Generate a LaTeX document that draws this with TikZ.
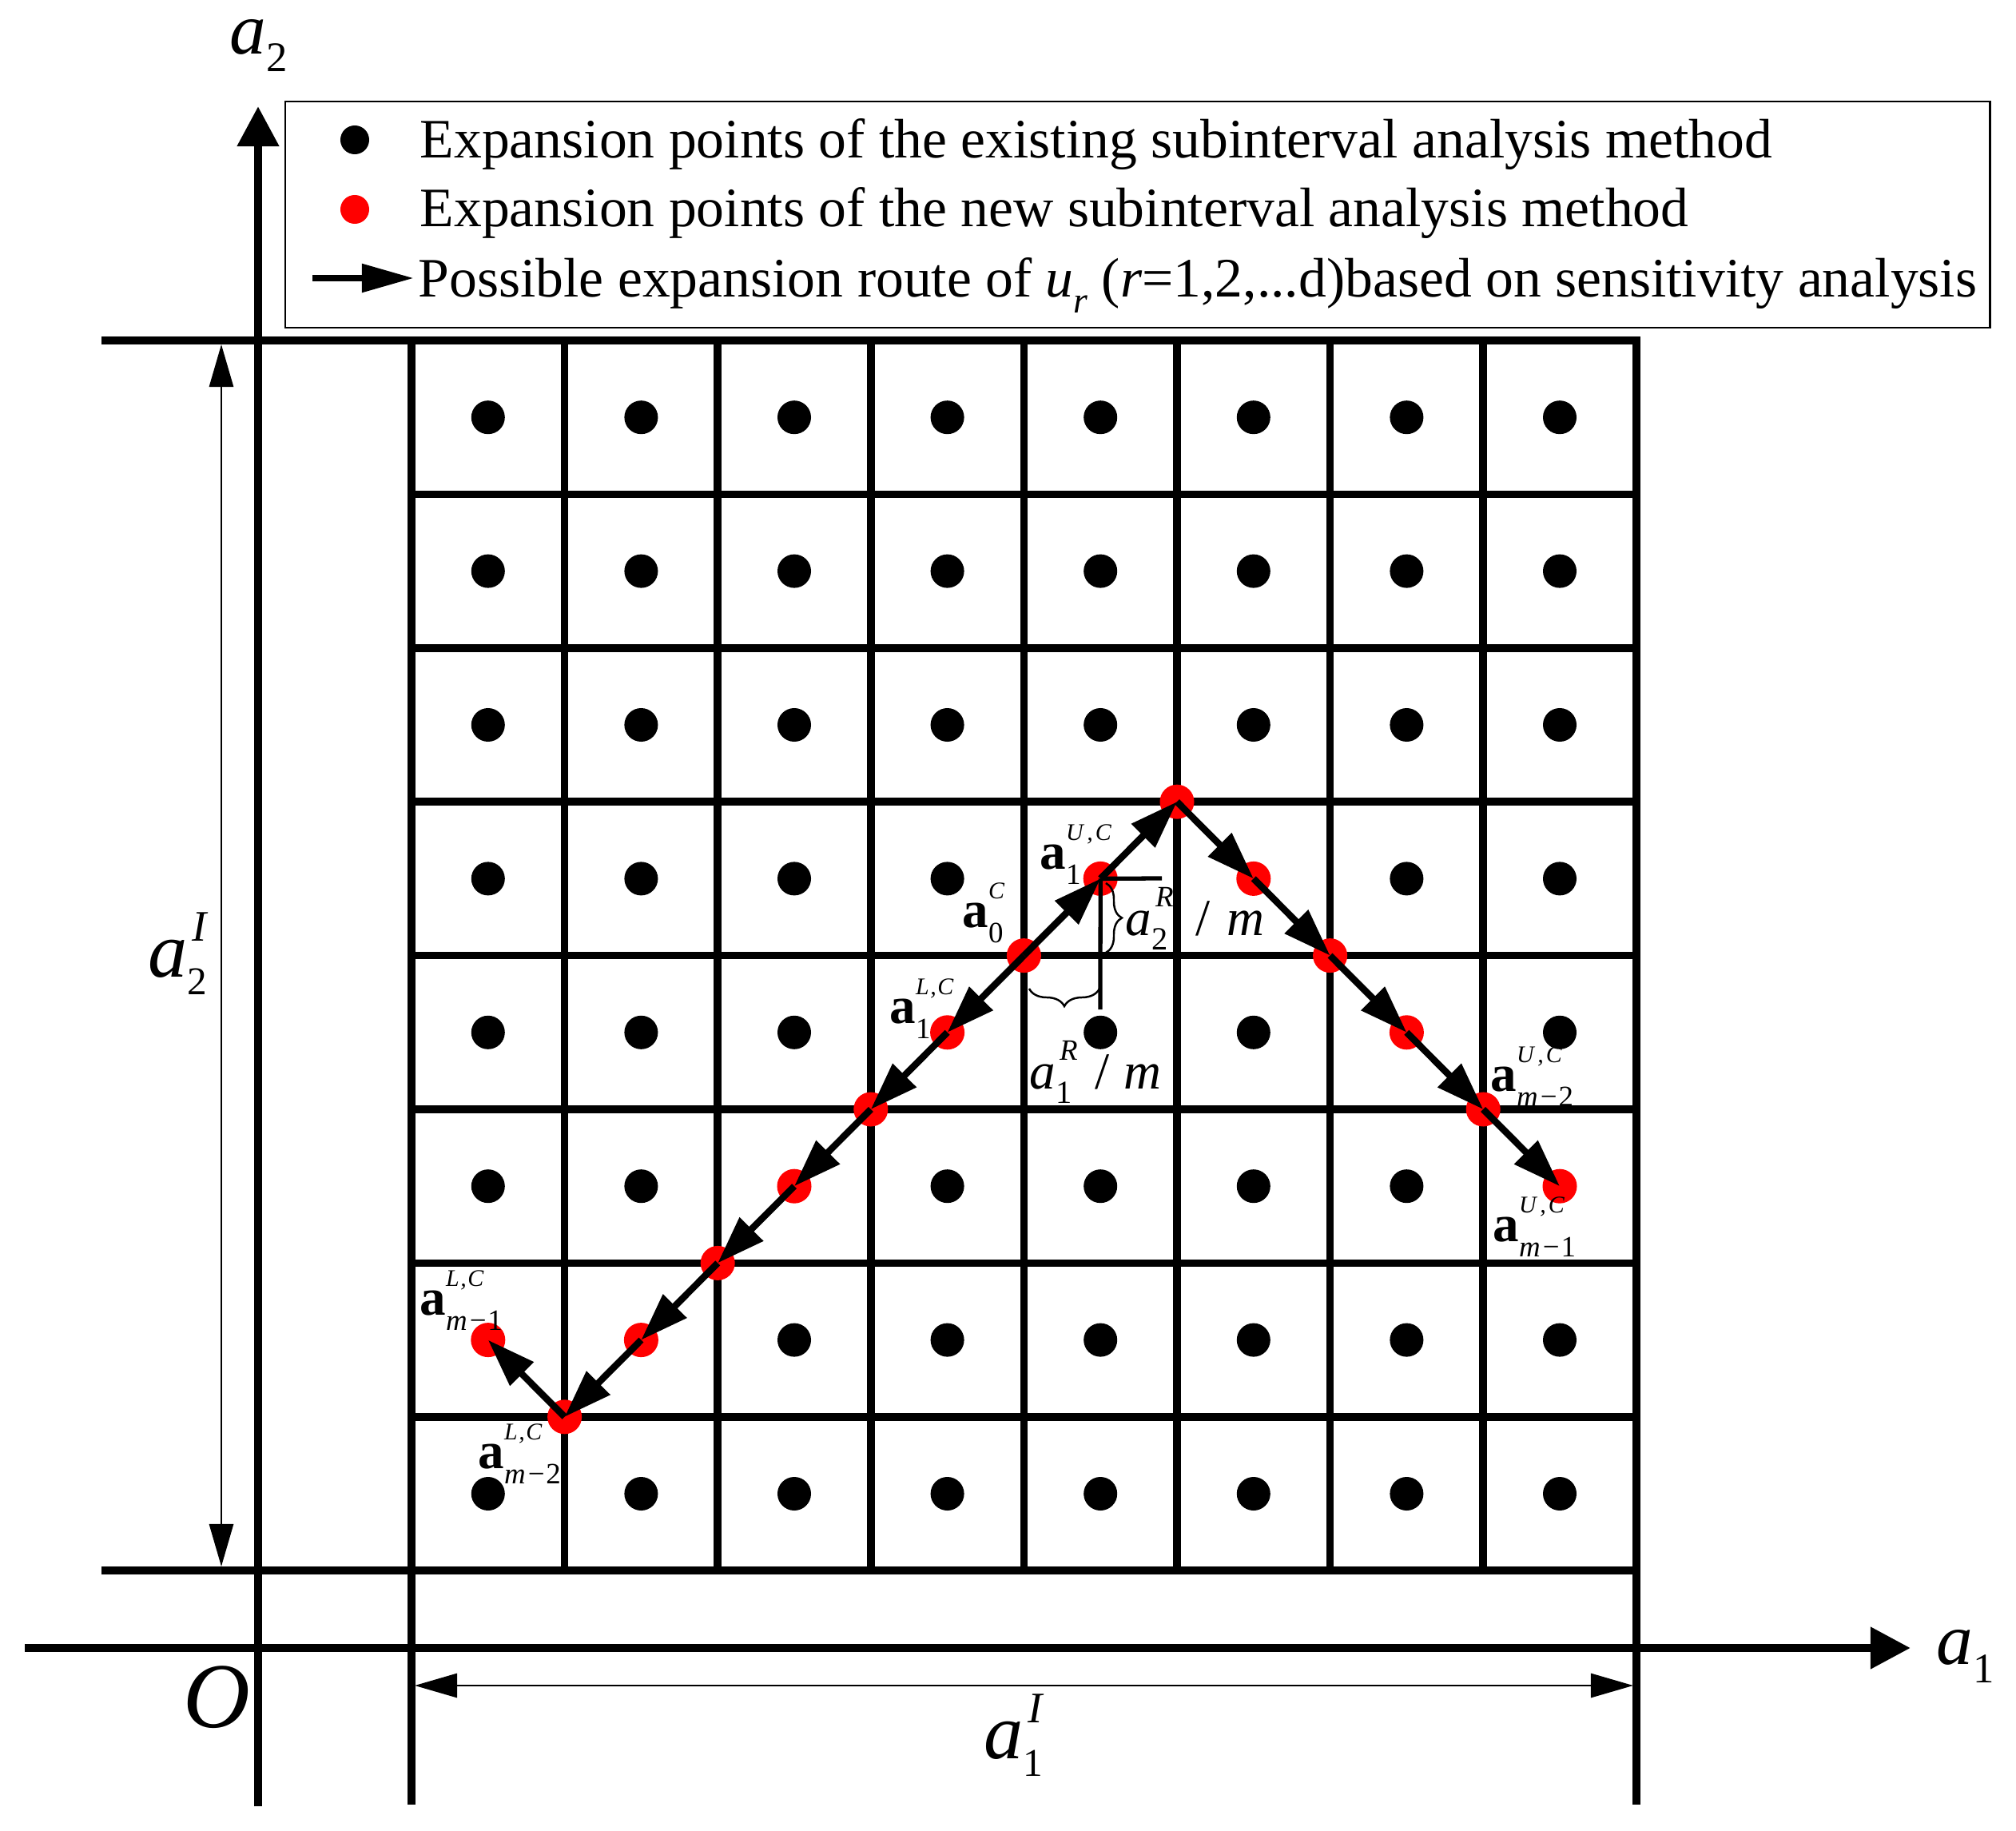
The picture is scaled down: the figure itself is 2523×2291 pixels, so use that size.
\documentclass[tikz,border=0pt]{standalone}
\usepackage{fontspec}
\setmainfont{Liberation Serif}
\usetikzlibrary{arrows.meta,decorations.pathreplacing}
\newcommand\fs[1]{\fontsize{#1}{#1}\selectfont}
\newcommand\blab[2]{{\fs{18.5}\bfseries a}\rlap{\raisebox{0.35cm}{\fs{8.5}\itshape #2}}\raisebox{-0.19cm}{\fs{10.5}#1}}
\newcommand\UC{U\kern.15em,\kern.1em C}
\newcommand\LC{L\kern.05em,\kern.05em C}
\newcommand\mmn[1]{\textit{m}\kern.08em−\kern.05em#1}
\newcommand\rlab[1]{{\fs{18.5}\itshape a}\rlap{\kern0.05cm\raisebox{0.35cm}{\fs{10.5}\itshape R}}\raisebox{-0.18cm}{\fs{11.5}#1}}
\newcommand\Ilab[1]{{\fs{28}\itshape a}\rlap{\kern0.06cm\raisebox{0.44cm}{\fs{15.5}\itshape I}}\raisebox{-0.22cm}{\fs{14}#1}}
\begin{document}
\begin{tikzpicture}[x=0.01cm,y=-0.01cm,
  gridline/.style={line width=2.7pt,line cap=rect},
  axis/.style={line width=3pt,-{Triangle[length=0.5cm,width=0.5cm]}},
  dim/.style={line width=0.8pt,{Triangle[length=0.53cm,width=0.3cm]}-{Triangle[length=0.53cm,width=0.3cm]}},
  route/.style={line width=2.4pt,-{Triangle[length=0.6cm,width=0.4cm]}},
  bdot/.style={circle,fill=black,inner sep=0pt,minimum size=0.42cm},
  rdot/.style={circle,fill=red,inner sep=0pt,minimum size=0.43cm},
  lbl/.style={inner sep=0pt,anchor=base west},
  thinline/.style={line width=1.5pt},
  brc/.style={decorate,line width=0.7pt},
]
\useasboundingbox (0,0) rectangle (2523,2291);

% grid
\foreach \j in {1,...,7} \draw[gridline] (515,{426+\j*192.4}) -- (2048,{426+\j*192.4});
\draw[gridline] (132,426) -- (2048,426);
\draw[gridline] (132,1965) -- (2048,1965);
\foreach \i in {1,...,7} \draw[gridline] ({515+\i*191.6},426) -- ({515+\i*191.6},1965);
\draw[gridline] (515,426) -- (515,2253);
\draw[gridline] (2048,426) -- (2048,2253);

% axes
\coordinate (yb) at (323,2260); \coordinate (yt) at (323,133);
\coordinate (xl) at (31,2062); \coordinate (xr) at (2391,2062);
\draw[axis] (yb) -- (yt);
\draw[axis] (xl) -- (xr);

% dimension arrows
\coordinate (d2t) at (277,431); \coordinate (d2b) at (277,1960);
\coordinate (d1l) at (519,2109); \coordinate (d1r) at (2044,2109);
\draw[dim] (d2t) -- (d2b);
\draw[dim] (d1l) -- (d1r);

% black dots
\foreach \rr in {0,1,2,7}{
  \foreach \cc in {0,...,7}{
    \node[bdot] (b\cc-\rr) at ({515+(2*\cc+1)*95.8},{426+(2*\rr+1)*96.2}) {};
  }
}
\foreach \cc in {0,1,2,3,6,7} \node[bdot] (b\cc-3) at ({515+(2*\cc+1)*95.8},{426+7*96.2}) {};
\foreach \cc in {0,1,2,4,5,7} \node[bdot] (b\cc-4) at ({515+(2*\cc+1)*95.8},{426+9*96.2}) {};
\foreach \cc in {0,1,3,4,5,6} \node[bdot] (b\cc-5) at ({515+(2*\cc+1)*95.8},{426+11*96.2}) {};
\foreach \cc in {2,3,4,5,6,7} \node[bdot] (b\cc-6) at ({515+(2*\cc+1)*95.8},{426+13*96.2}) {};

% route points
\foreach \n/\u/\v in {A0/8/8, U1/9/7, TP/10/6, R1/11/7, R2/12/8, R3/13/9, R4/14/10, R5/15/11, L1/7/9, L2/6/10, L3/5/11, L4/4/12, L5/3/13, L6/2/14, L7/1/13}{
  \coordinate (\n) at ({515+\u*95.8},{426+\v*96.2});
  \node[rdot] (d\n) at (\n) {};
}

% step lines and braces
\coordinate (hE) at (1454,1099);
\coordinate (vE) at (1377,1263);
\draw[thinline] (U1) -- (hE);
\draw[thinline] (U1) -- (vE);
\coordinate (bv1) at (1384,1105); \coordinate (bv2) at (1384,1192);
\draw[brc,decoration={brace,amplitude=0.2cm}] (bv1) -- (bv2);
\coordinate (bh1) at (1376,1237); \coordinate (bh2) at (1288,1237);
\draw[brc,decoration={brace,amplitude=0.22cm}] (bh1) -- (bh2);

% routes
\draw[route] (A0) -- (U1);
\draw[route] (U1) -- (TP);
\draw[route] (TP) -- (R1);
\draw[route] (R1) -- (R2);
\draw[route] (R2) -- (R3);
\draw[route] (R3) -- (R4);
\draw[route] (R4) -- (R5);
\draw[route] (A0) -- (L1);
\draw[route] (L1) -- (L2);
\draw[route] (L2) -- (L3);
\draw[route] (L3) -- (L4);
\draw[route] (L4) -- (L5);
\draw[route] (L5) -- (L6);
\draw[route] (L6) -- (L7);

% point labels
\node[lbl] (la0) at (1204,1160) {\blab{0}{C}};
\node[lbl] (lu1) at (1301,1087) {\blab{1}{\UC}};
\node[lbl] (ll1) at (1113,1280) {\blab{1}{\LC}};
\node[lbl] (lr4) at (1865,1365) {\blab{\mmn{2}}{\UC}};
\node[lbl] (lr5) at (1868,1553) {\blab{\mmn{1}}{\UC}};
\node[lbl] (ll7) at (525,1645) {\blab{\mmn{1}}{\LC}};
\node[lbl] (ll6) at (598,1837) {\blab{\mmn{2}}{\LC}};

% step labels
\node[lbl] (a2R) at (1408,1170) {\rlab{2}};
\node[lbl] (a2m) at (1496,1170) {\fs{18.5}/\kern0.21cm\itshape m};
\node[lbl] (a1R) at (1288,1362) {\rlab{1}};
\node[lbl] (a1m) at (1370,1362) {\fs{18.5}/\kern0.18cm\itshape m};

% axis labels
\node[lbl] (la2ax) at (287,68) {{\fs{26}\itshape a}\raisebox{-0.21cm}{\fs{15}2}};
\node[lbl] (la1ax) at (2423,2082) {{\fs{26}\itshape a}\raisebox{-0.23cm}{\fs{15}1}};
\node[lbl] (lO) at (229,2161) {\fs{33}\itshape O};
\node[lbl] (la1I) at (1231,2200) {\Ilab{1}};
\node[lbl] (la2I) at (185,1222) {\Ilab{2}};

% legend
\draw[line width=0.85pt] (357,127) rectangle (2490,410);
\node[bdot,minimum size=0.36cm] (lgb) at (444,175) {};
\node[rdot,minimum size=0.36cm] (lgr) at (444,262) {};
\coordinate (lga1) at (391,348); \coordinate (lga2) at (518,348);
\draw[line width=2.4pt,-{Triangle[length=0.65cm,width=0.34cm]}] (lga1) -- (lga2);
\node[lbl] (lt1) at (525,198) {\fs{19.8}Expansion points of the existing subinterval analysis method};
\node[lbl] (lt2) at (525,284) {\fs{19.8}Expansion points of the new subinterval analysis method};
\node[lbl] (lt3) at (523,371) {\fs{19.8}Possible expansion route of \textit{u}\raisebox{-0.2cm}{\fs{13}\itshape r} (\textit{r}=1,2,...d)based on sensitivity analysis};
\end{tikzpicture}
\end{document}
